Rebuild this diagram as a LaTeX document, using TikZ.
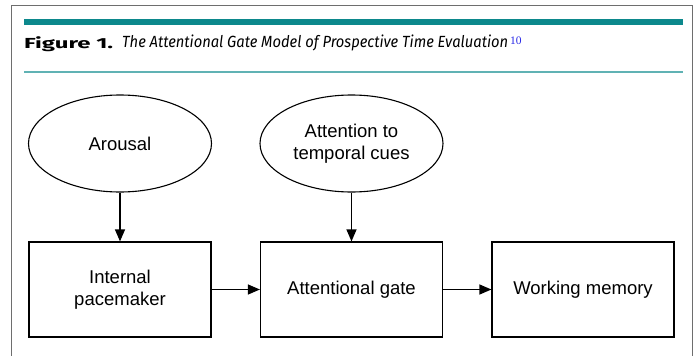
\documentclass[tikz,border=0pt]{standalone}
\usepackage{fontspec}
\setmainfont{Liberation Sans}
\newfontfamily\capfont{Fira Sans}
\newfontfamily\supfont{Liberation Serif}
\usetikzlibrary{arrows.meta,shapes.geometric}
\definecolor{tealbar}{RGB}{12,136,140}
\definecolor{tealline}{RGB}{96,178,180}
\definecolor{framegray}{RGB}{110,110,110}
\definecolor{refblue}{RGB}{40,40,230}
\tikzset{
  blk/.style={draw, line width=1.2pt, minimum width=182pt, minimum height=95pt,
    align=center, font=\fontsize{18.5}{22}\selectfont, inner sep=0pt},
  oval/.style={draw, ellipse, line width=1.1pt, minimum width=183pt, minimum height=97pt,
    align=center, font=\fontsize{18.5}{22}\selectfont, inner sep=0pt},
  flow/.style={line width=1.2pt, -{Triangle[length=12pt,width=10pt]}}
}
\begin{document}
\begin{tikzpicture}[x=1pt,y=-1pt]
\useasboundingbox (0,0) rectangle (694,356);
% page frame, open at the bottom
\draw[framegray, line width=1pt] (11,356) -- (11,5) -- (692,5) -- (692,356);
% caption rules
\fill[tealbar] (24,19) rectangle (683,24.5);
\draw[tealline, line width=1.3pt] (24,72) -- (683,72);
% caption: bold label, italic title, blue reference number
\node[anchor=base west, inner sep=0pt] (lab) at (24,48)
  {\resizebox{89pt}{11.8pt}{\capfont\fontsize{14}{16}\selectfont\textbf{Figure 1.}}};
\node[anchor=base west, inner sep=0pt] (cap) at (122,48)
  {\resizebox{386pt}{12.6pt}{\capfont\fontsize{14}{16}\selectfont\textit{The Attentional Gate Model of Prospective Time Evaluation}}};
\node[anchor=base west, inner sep=0pt, text=refblue, font=\supfont\fontsize{11.5}{12}\selectfont]
  (ref) at ([xshift=1.5pt,yshift=4pt]cap.base east) {10};
% model
\node[oval] (arousal) at (120,143.5) {Arousal};
\node[oval] (cues) at (351.5,143.5) {Attention to\\temporal cues};
\node[blk] (pace) at (120,289.5) {Internal\\pacemaker};
\node[blk] (gate) at (351.5,289.5) {Attentional gate};
\node[blk] (wm) at (583,289.5) {Working memory};
\draw[flow] (arousal) -- (pace);
\draw[flow] (cues) -- (gate);
\draw[flow] (pace) -- (gate);
\draw[flow] (gate) -- (wm);
\end{tikzpicture}
\end{document}
